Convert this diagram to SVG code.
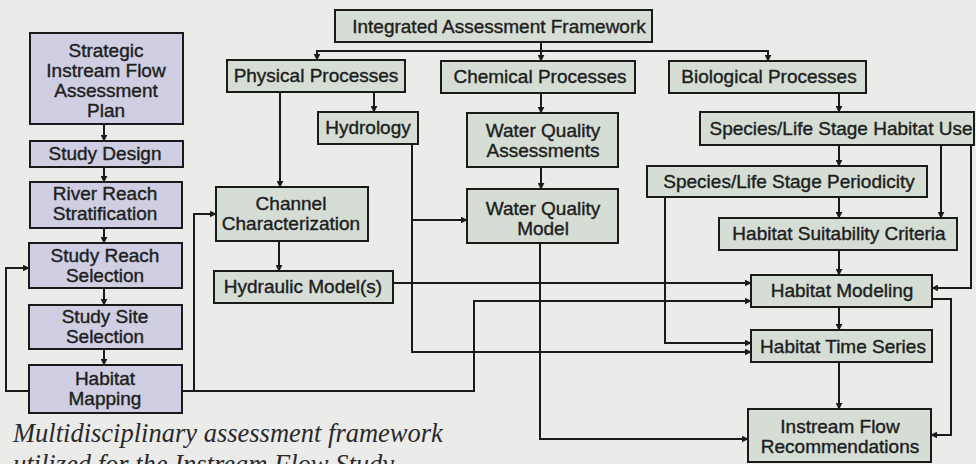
<svg xmlns="http://www.w3.org/2000/svg" width="976" height="464" viewBox="0 0 976 464">
  <defs>
    <marker id="arr" viewBox="0 0 10 10" refX="9" refY="5" markerWidth="7" markerHeight="7" markerUnits="userSpaceOnUse" orient="auto">
      <path d="M0,0 L10,5 L0,10 z" fill="#1a1a1a"/>
    </marker>
    <style>
      .bg { fill: #ebebea; }
      .plan { fill: #cfcee2; stroke: #1a1a1a; stroke-width: 2; }
      .proc { fill: #d5ddd5; stroke: #1a1a1a; stroke-width: 2; }
      .lbl { font-family: "Liberation Sans", Arial, sans-serif; font-size: 19px; fill: #1e1e1e; text-anchor: middle; stroke: #1e1e1e; stroke-width: 0.4; }
      .cap { font-family: "Liberation Serif", "Times New Roman", serif; font-style: italic; font-size: 26.5px; fill: #2a2a2a; }
      .wire { fill: none; stroke: #1a1a1a; stroke-width: 2; }
      .arrow { marker-end: url(#arr); }
    </style>
  </defs>

  <rect class="bg" x="0" y="0" width="976" height="464"/>

  <!-- connectors -->
  <g id="connectors">
    <!-- framework to the three process families -->
    <path class="wire" d="M541,42 L541,51"/>
    <path class="wire arrow" d="M541,51 L317,51 L317,60"/>
    <path class="wire arrow" d="M541,51 L541,61"/>
    <path class="wire arrow" d="M541,51 L768,51 L768,61"/>

    <!-- physical branch -->
    <path class="wire arrow" d="M374,92 L374,112"/>
    <path class="wire arrow" d="M280,92 L280,187"/>
    <path class="wire arrow" d="M279,241 L279,271"/>

    <!-- chemical branch -->
    <path class="wire arrow" d="M541,93 L541,113"/>
    <path class="wire arrow" d="M541,167 L541,189"/>

    <!-- hydrology outputs -->
    <path class="wire arrow" d="M412,144 L412,220 L467,220"/>
    <path class="wire arrow" d="M412,220 L412,352 L751,352"/>

    <!-- hydraulics to habitat modeling -->
    <path class="wire arrow" d="M393,283 L751,283"/>

    <!-- water quality model to recommendations -->
    <path class="wire arrow" d="M540,243 L540,439 L748,439"/>

    <!-- habitat mapping feeds -->
    <path class="wire arrow" d="M182,391 L194,391 L194,214 L216,214"/>
    <path class="wire arrow" d="M194,391 L474,391 L474,301 L751,301"/>
    <path class="wire arrow" d="M29,391 L6,391 L6,268 L29,268"/>

    <!-- planning sequence -->
    <path class="wire arrow" d="M104,124 L104,141"/>
    <path class="wire arrow" d="M104,167 L104,182"/>
    <path class="wire arrow" d="M104,228 L104,243"/>
    <path class="wire arrow" d="M104,288 L104,305"/>
    <path class="wire arrow" d="M104,349 L104,365"/>

    <!-- biological branch -->
    <path class="wire arrow" d="M839,93 L839,112"/>
    <path class="wire arrow" d="M839,145 L839,166"/>
    <path class="wire arrow" d="M839,197 L839,218"/>
    <path class="wire arrow" d="M941,145 L941,218"/>
    <path class="wire arrow" d="M971,145 L971,288 L932,288"/>
    <path class="wire arrow" d="M839,250 L839,275"/>
    <path class="wire arrow" d="M665,197 L665,343 L751,343"/>
    <path class="wire arrow" d="M839,307 L839,330"/>
    <path class="wire arrow" d="M839,362 L839,409"/>
    <path class="wire arrow" d="M932,299 L951,299 L951,435 L931,435"/>
  </g>

  <!-- planning column -->
  <g id="strategic-plan">
    <rect class="plan" x="30" y="33" width="153" height="91"/>
    <text class="lbl" x="106" y="57">Strategic</text>
    <text class="lbl" x="106" y="77">Instream Flow</text>
    <text class="lbl" x="106" y="97">Assessment</text>
    <text class="lbl" x="106" y="117">Plan</text>
  </g>
  <g id="study-design">
    <rect class="plan" x="30" y="141" width="153" height="26"/>
    <text class="lbl" x="105" y="160">Study Design</text>
  </g>
  <g id="river-reach-stratification">
    <rect class="plan" x="30" y="182" width="152" height="46"/>
    <text class="lbl" x="105" y="200">River Reach</text>
    <text class="lbl" x="105" y="220">Stratification</text>
  </g>
  <g id="study-reach-selection">
    <rect class="plan" x="29" y="243" width="153" height="45"/>
    <text class="lbl" x="105" y="262">Study Reach</text>
    <text class="lbl" x="105" y="282">Selection</text>
  </g>
  <g id="study-site-selection">
    <rect class="plan" x="29" y="305" width="153" height="44"/>
    <text class="lbl" x="105" y="323">Study Site</text>
    <text class="lbl" x="105" y="343">Selection</text>
  </g>
  <g id="habitat-mapping">
    <rect class="plan" x="29" y="365" width="153" height="48"/>
    <text class="lbl" x="105" y="385">Habitat</text>
    <text class="lbl" x="105" y="405">Mapping</text>
  </g>

  <!-- framework and process boxes -->
  <g id="integrated-framework">
    <rect class="proc" x="335" y="10" width="317" height="32"/>
    <text class="lbl" x="499" y="33">Integrated Assessment Framework</text>
  </g>
  <g id="physical-processes">
    <rect class="proc" x="227" y="60" width="178" height="32"/>
    <text class="lbl" x="316" y="82">Physical Processes</text>
  </g>
  <g id="chemical-processes">
    <rect class="proc" x="441" y="61" width="194" height="32"/>
    <text class="lbl" x="540" y="83">Chemical Processes</text>
  </g>
  <g id="biological-processes">
    <rect class="proc" x="669" y="61" width="197" height="32"/>
    <text class="lbl" x="769" y="83">Biological Processes</text>
  </g>
  <g id="hydrology">
    <rect class="proc" x="318" y="112" width="100" height="32"/>
    <text class="lbl" x="368" y="134">Hydrology</text>
  </g>
  <g id="water-quality-assessments">
    <rect class="proc" x="467" y="113" width="151" height="54"/>
    <text class="lbl" x="543" y="137">Water Quality</text>
    <text class="lbl" x="543" y="157">Assessments</text>
  </g>
  <g id="water-quality-model">
    <rect class="proc" x="467" y="189" width="151" height="54"/>
    <text class="lbl" x="543" y="215">Water Quality</text>
    <text class="lbl" x="543" y="235">Model</text>
  </g>
  <g id="channel-characterization">
    <rect class="proc" x="216" y="187" width="152" height="54"/>
    <text class="lbl" x="291" y="210">Channel</text>
    <text class="lbl" x="291" y="230">Characterization</text>
  </g>
  <g id="hydraulic-models">
    <rect class="proc" x="214" y="271" width="179" height="32"/>
    <text class="lbl" x="303" y="293">Hydraulic Model(s)</text>
  </g>
  <g id="habitat-use">
    <rect class="proc" x="700" y="112" width="274" height="33"/>
    <text class="lbl" x="841" y="135">Species/Life Stage Habitat Use</text>
  </g>
  <g id="periodicity">
    <rect class="proc" x="647" y="166" width="280" height="31"/>
    <text class="lbl" x="789" y="188">Species/Life Stage Periodicity</text>
  </g>
  <g id="suitability-criteria">
    <rect class="proc" x="719" y="218" width="238" height="32"/>
    <text class="lbl" x="839" y="240">Habitat Suitability Criteria</text>
  </g>
  <g id="habitat-modeling">
    <rect class="proc" x="751" y="275" width="181" height="32"/>
    <text class="lbl" x="842" y="297">Habitat Modeling</text>
  </g>
  <g id="habitat-time-series">
    <rect class="proc" x="751" y="330" width="181" height="32"/>
    <text class="lbl" x="843" y="353">Habitat Time Series</text>
  </g>
  <g id="instream-flow-recommendations">
    <rect class="proc" x="748" y="409" width="183" height="53"/>
    <text class="lbl" x="840" y="433">Instream Flow</text>
    <text class="lbl" x="840" y="453">Recommendations</text>
  </g>

  <!-- caption -->
  <text class="cap" x="13" y="442">Multidisciplinary assessment framework</text>
  <text class="cap" x="13" y="473">utilized for the Instream Flow Study</text>
</svg>
